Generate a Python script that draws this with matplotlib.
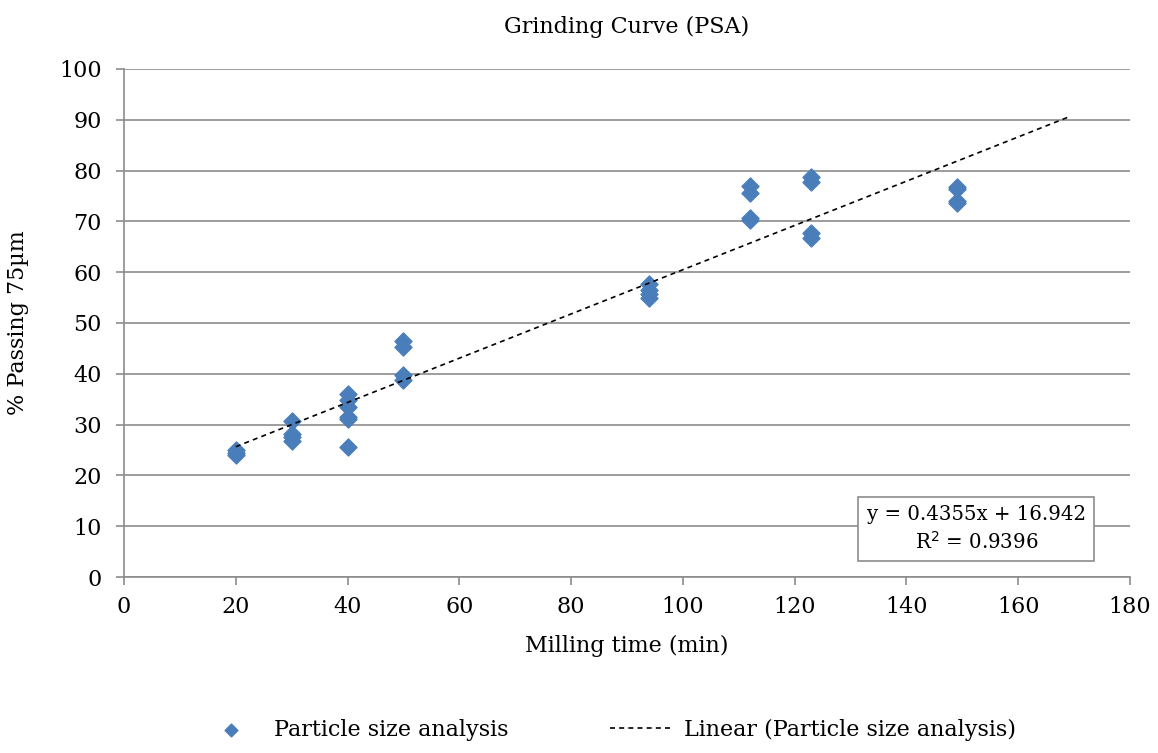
import matplotlib.pyplot as plt
import numpy as np

plt.rcParams['font.family'] = ['DejaVu Serif']

# milling time (min) and % passing 75um from the PSA runs
time_min = [20, 20, 20,
            30, 30, 30, 30,
            40, 40, 40, 40, 40, 40,
            50, 50, 50, 50,
            94, 94, 94, 94,
            112, 112, 112, 112,
            123, 123, 123, 123,
            149, 149, 149, 149]
passing = [25.0, 24.4, 24.0,
           30.7, 28.2, 27.5, 26.8,
           36.0, 34.8, 33.5, 31.5, 31.1, 25.6,
           46.5, 45.2, 39.8, 38.8,
           57.7, 56.5, 55.8, 55.0,
           77.0, 75.6, 70.7, 70.3,
           78.8, 77.7, 67.7, 66.8,
           76.8, 76.4, 74.0, 73.6]

slope = 0.4355
intercept = 16.942
r2 = 0.9396
fit_x = [20, 169]

fig = plt.figure(figsize=(11.58, 7.53), dpi=100)
ax = fig.add_axes([0.1071, 0.2337, 0.8687, 0.6747])

color = '#4a7ebb'
ax.scatter(time_min, passing, marker='D', s=75, color=color, zorder=3,
           label='Particle size analysis')
fx = np.array(fit_x)
ax.plot(fx, slope * fx + intercept, ls=(0, (3, 2.5)), color='black', lw=1.2,
        zorder=4, label='Linear (Particle size analysis)')

ax.set_xlim(0, 180)
ax.set_ylim(0, 100)
ax.set_xticks(range(0, 181, 20))
ax.set_yticks(range(0, 101, 10))
ax.yaxis.grid(True, color='#8c8c8c', lw=1.2)
ax.set_axisbelow(True)
for s in ['top', 'right']:
    ax.spines[s].set_visible(False)
for s in ['left', 'bottom']:
    ax.spines[s].set_color('#8c8c8c')
    ax.spines[s].set_linewidth(1.2)
ax.tick_params(axis='both', labelsize=16, color='#8c8c8c', length=6, width=1.2)
ax.tick_params(axis='x', pad=8)
ax.tick_params(axis='y', pad=10)

ax.set_title('Grinding Curve (PSA)', fontsize=16, pad=26)
ax.set_xlabel('Milling time (min)', fontsize=16, labelpad=12)
ax.set_ylabel('% Passing 75µm', fontsize=16, labelpad=22)

ax.text(152.5, 9.5, f'y = {slope}x + {intercept}\nR$^2$ = {r2}', fontsize=14.2,
        ha='center', va='center', linespacing=1.35,
        bbox=dict(boxstyle='square,pad=0.42', fc='white', ec='#8c8c8c', lw=1.2))

fig.legend(loc='lower center', bbox_to_anchor=(0.525, -0.01), ncol=2, frameon=False,
           fontsize=16, columnspacing=4.6, handlelength=2.8, handletextpad=0.5,
           markerscale=0.75)

fig.savefig('out.png', dpi=100)
